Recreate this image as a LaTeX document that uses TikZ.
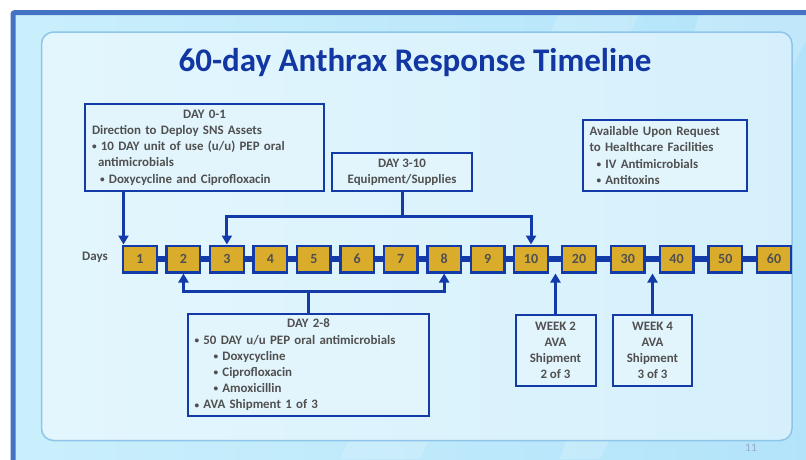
\documentclass[tikz,border=0pt]{standalone}
\usepackage{fontspec}
\setmainfont{Carlito}
\usetikzlibrary{arrows.meta,positioning}

\definecolor{frameblue}{HTML}{4472C4}
\definecolor{slideleft}{HTML}{CAEFFC}
\definecolor{slideright}{HTML}{B2E3FA}
\definecolor{panelleft}{HTML}{E3F6FD}
\definecolor{panelright}{HTML}{D5F0FC}
\definecolor{panelline}{HTML}{8EC5E8}
\definecolor{lineblue}{HTML}{123AA8}
\definecolor{titleblue}{HTML}{1236A2}
\definecolor{daygold}{HTML}{DAAC2C}
\definecolor{boxfill}{HTML}{E2F5FC}
\definecolor{textgray}{HTML}{505050}
\definecolor{pagegray}{HTML}{96AACB}

\newcommand{\bul}{\raisebox{0.12ex}{\scalebox{0.72}{\textbullet}}\ }

\begin{document}
\begin{tikzpicture}[x=1pt,y=-1pt,
  daybox/.style={draw=lineblue,line width=2.4pt,fill=daygold,minimum width=33.6pt,
    minimum height=26.6pt,inner sep=0pt,text=textgray,font=\bfseries\fontsize{14}{16}\selectfont},
  infobox/.style={draw=lineblue,line width=2pt,fill=boxfill,inner sep=0pt,text=textgray,
    font=\bfseries\fontsize{12.9}{16.2}\selectfont},
  daylink/.style={lineblue,line width=5.5pt},
  link/.style={lineblue,line width=3pt},
  pointer/.style={link,-{Triangle[width=10pt,length=9pt]}}]
  \useasboundingbox (0,0) rectangle (806,459);
  \fill[white] (0,0) rectangle (806,459);

  % slide and panel
  \shade[left color=slideleft,right color=slideright] (13,12.5) rectangle (830,480);
  \begin{scope}
    \clip (13,12.5) rectangle (806,459);
    \fill[white,opacity=0.18] (560,12.5) -- (640,12.5) -- (420,459) -- (340,459) -- cycle;
    \fill[white,opacity=0.18] (700,12.5) -- (806,12.5) -- (806,40) -- (600,459) -- (560,459) -- cycle;
  \end{scope}
  \draw[frameblue,line width=5pt,rounded corners=2pt] (13,480) -- (13,12.5) -- (830,12.5);
  \shade[left color=panelleft,right color=panelright,rounded corners=12pt]
    (41.5,32) rectangle (792,440.5);
  \draw[panelline,line width=1.5pt,rounded corners=12pt] (41.5,32) rectangle (792,440.5);

  \node[text=titleblue,font=\bfseries\fontsize{33}{38}\selectfont] (title) at (415,63)
    {60-day Anthrax Response Timeline};

  % timeline
  \node[text=textgray,font=\bfseries\fontsize{13}{16}\selectfont] (days) at (95,257) {Days};
  \foreach \d [count=\i] in {1,...,10}
    \node[daybox] (d\d) at ({140+43.45*(\i-1)},259) {\d};
  \foreach \d [count=\i from 0] in {20,30,40,50,60}
    \node[daybox] (d\d) at ({579+48.75*\i},259) {\d};
  \foreach \a/\b in {1/2,2/3,3/4,4/5,5/6,6/7,7/8,8/9,9/10,10/20,20/30,30/40,40/50,50/60}
    \draw[daylink] (d\a.east) -- (d\b.west);

  % boxes above
  \node[infobox,minimum width=239pt,minimum height=87pt,text width=225pt,align=left] (n01)
    at (204.5,147.5)
    {\makebox[\linewidth]{DAY 0-1}\\
     Direction to Deploy SNS Assets\\
     \bul 10 DAY unit of use (u/u) PEP oral\\
     \hspace*{6pt}antimicrobials\\
     \hspace*{8pt}\bul Doxycycline and Ciprofloxacin};
  \node[infobox,minimum width=140pt,minimum height=38pt,align=center] (n310) at (402,172)
    {DAY 3-10\\Equipment/Supplies};
  \node[infobox,minimum width=164pt,minimum height=71pt,text width=151pt,align=left] (navail)
    at (665,155.5)
    {Available Upon Request\\
     to Healthcare Facilities\\
     \hspace*{7pt}\bul IV Antimicrobials\\
     \hspace*{7pt}\bul Antitoxins};

  % boxes below
  \node[infobox,minimum width=241pt,minimum height=102pt,text width=228pt,align=left] (n28)
    at (308.5,365)
    {\makebox[\linewidth]{DAY 2-8}\\
     \bul 50 DAY u/u PEP oral antimicrobials\\
     \hspace*{19pt}\bul Doxycycline\\
     \hspace*{19pt}\bul Ciprofloxacin\\
     \hspace*{19pt}\bul Amoxicillin\\
     \bul AVA Shipment 1 of 3};
  \node[infobox,minimum width=80pt,minimum height=71pt,align=center] (nw2) at (555.5,350.5)
    {WEEK 2\\AVA\\Shipment\\2 of 3};
  \node[infobox,minimum width=79pt,minimum height=71pt,align=center] (nw4) at (652.5,350.5)
    {WEEK 4\\AVA\\Shipment\\3 of 3};

  % pointers
  \coordinate (t1) at ([xshift=1.5pt]d1.north west);
  \draw[pointer] (t1 |- n01.south) -- (t1);
  \coordinate (j310) at (402,216);
  \draw[link] (n310) -- (j310);
  \draw[pointer] (j310) -| (d3.north);
  \draw[pointer] (j310) -| (d10.north);
  \coordinate (j28) at (308.5,291);
  \draw[link] (n28) -- (j28);
  \draw[pointer] (j28) -| (d2.south);
  \draw[pointer] (j28) -| (d8.south);
  \draw[pointer] (nw2) -- (nw2 |- d10.south);
  \draw[pointer] (nw4) -- (nw4 |- d30.south);

  \node[text=pagegray,font=\fontsize{11.5}{13}\selectfont] (page) at (751,448) {11};
\end{tikzpicture}
\end{document}
